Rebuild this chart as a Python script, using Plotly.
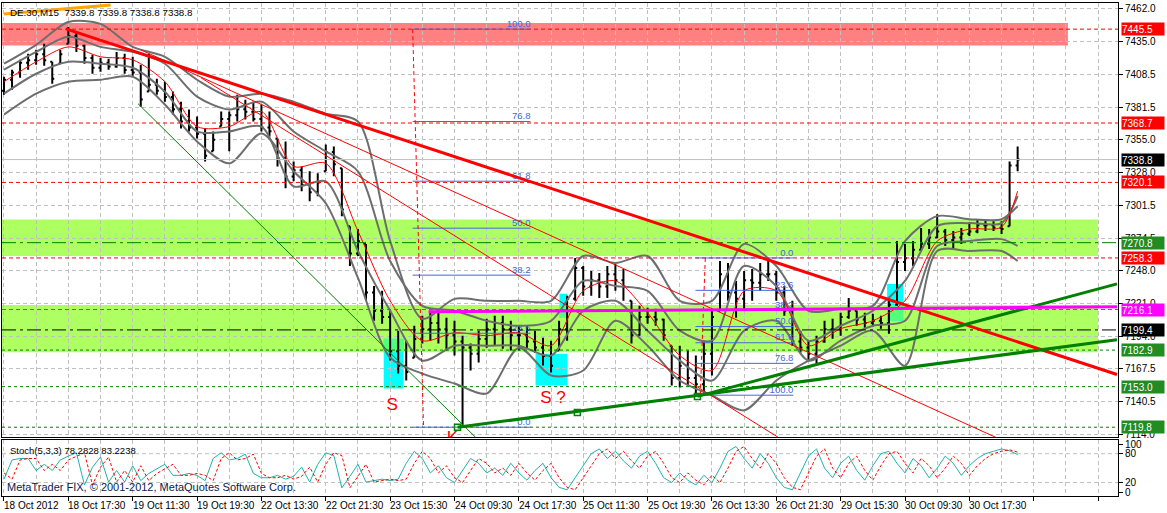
import plotly.graph_objects as go

FONT = "Liberation Sans"
FS = 9.5

# ---------------- price bars (every 4th M15 bar; x = bar number from 18 Oct 09:30)
bar_idx = list(range(0, 505, 4))
high = [7406.6, 7412.3, 7420.4, 7425.3, 7428.6, 7433.5, 7418.8, 7428.6, 7447.3, 7443.2,
        7432.7, 7424.5, 7422.1, 7421.2, 7426.9, 7425.3, 7422.9, 7416.4, 7425.3, 7405.0,
        7402.5, 7394.4, 7386.2, 7379.7, 7374.0, 7364.2, 7361.8, 7378.1, 7378.1, 7391.9,
        7387.8, 7386.2, 7383.8, 7378.1, 7356.0, 7353.6, 7337.3, 7333.2, 7329.2, 7327.5,
        7351.2, 7349.5, 7331.6, 7284.3, 7281.9, 7269.7, 7235.4, 7231.4, 7215.1, 7198.8,
        7190.6, 7202.8, 7211.0, 7215.1, 7213.4, 7209.3, 7206.9, 7194.7, 7188.2, 7198.8,
        7208.5, 7211.0, 7211.0, 7206.9, 7202.8, 7202.8, 7198.8, 7193.0, 7190.6, 7206.9,
        7227.3, 7258.2, 7251.7, 7247.7, 7246.0, 7251.7, 7253.4, 7249.3, 7223.2, 7219.1,
        7217.5, 7216.7, 7208.5, 7186.5, 7186.5, 7182.5, 7178.4, 7190.6, 7215.1, 7255.8,
        7254.2, 7239.5, 7247.7, 7249.3, 7254.2, 7258.2, 7247.7, 7235.4, 7223.2, 7198.8,
        7190.6, 7194.7, 7206.9, 7208.5, 7213.4, 7225.6, 7215.1, 7213.4, 7212.6, 7211.0,
        7223.2, 7272.1, 7269.7, 7272.1, 7282.7, 7281.9, 7294.1, 7281.9, 7280.3, 7282.7,
        7286.8, 7290.0, 7290.0, 7288.4, 7288.4, 7337.3, 7349.5]
low = [7391.9, 7396.0, 7405.8, 7412.3, 7416.4, 7415.5, 7400.9, 7417.2, 7433.5, 7426.9,
       7417.2, 7409.0, 7410.6, 7412.3, 7413.9, 7409.0, 7407.4, 7382.1, 7394.4, 7391.9,
       7386.2, 7375.6, 7364.2, 7361.8, 7356.0, 7337.3, 7345.5, 7365.8, 7345.5, 7369.9,
       7371.5, 7369.9, 7361.8, 7357.7, 7333.2, 7315.3, 7321.0, 7312.9, 7304.7, 7308.8,
       7329.2, 7325.1, 7292.5, 7251.7, 7259.9, 7223.2, 7206.9, 7204.5, 7174.3, 7163.7,
       7158.0, 7176.7, 7188.2, 7190.6, 7188.2, 7182.5, 7178.4, 7119.7, 7166.2, 7172.7,
       7184.9, 7186.5, 7184.1, 7182.5, 7182.5, 7184.1, 7180.8, 7170.2, 7164.5, 7182.5,
       7190.6, 7223.2, 7227.3, 7227.3, 7225.6, 7225.6, 7231.4, 7223.2, 7188.2, 7194.7,
       7204.5, 7202.8, 7190.6, 7153.9, 7152.3, 7153.9, 7147.4, 7145.8, 7162.1, 7215.1,
       7223.2, 7209.3, 7215.1, 7223.2, 7231.4, 7239.5, 7223.2, 7211.0, 7186.5, 7180.8,
       7174.3, 7171.9, 7189.0, 7192.2, 7194.7, 7208.5, 7202.8, 7201.2, 7202.0, 7200.4,
       7196.3, 7219.1, 7247.7, 7251.7, 7264.0, 7265.6, 7274.5, 7268.1, 7266.4, 7269.7,
       7276.2, 7278.6, 7280.3, 7280.3, 7277.8, 7284.3, 7329.2]
close = [7404, 7410, 7418, 7420, 7425, 7420, 7405, 7425, 7440, 7432,
         7422, 7414, 7418, 7415, 7422, 7412, 7410, 7388, 7400, 7395,
         7390, 7380, 7370, 7365, 7360, 7342, 7355, 7372, 7375, 7380,
         7378, 7372, 7365, 7362, 7340, 7325, 7330, 7318, 7312, 7320,
         7345, 7335, 7298, 7262, 7272, 7230, 7215, 7210, 7182, 7170,
         7165, 7192, 7200, 7205, 7200, 7195, 7190, 7185, 7180, 7192,
         7200, 7205, 7200, 7195, 7195, 7190, 7185, 7178, 7170, 7200,
         7225, 7250, 7235, 7240, 7235, 7245, 7240, 7235, 7195, 7210,
         7210, 7208, 7195, 7160, 7170, 7160, 7155, 7180, 7210, 7245,
         7230, 7225, 7240, 7238, 7245, 7245, 7230, 7215, 7190, 7185,
         7180, 7190, 7200, 7200, 7210, 7215, 7208, 7205, 7207, 7205,
         7220, 7255, 7258, 7265, 7270, 7275, 7280, 7273, 7275, 7278,
         7280, 7285, 7285, 7283, 7282, 7334, 7338.8]
open_ = [7395.0] + [min(max(close[k - 1], low[k]), high[k]) for k in range(1, len(close))]

# ---------------- indicator curves (every 16 bars)
band_idx = [0, 16, 32, 48, 64, 80, 96, 112, 128, 144, 160, 176, 192, 208, 224, 240,
            256, 272, 288, 304, 320, 336, 352, 368, 384, 400, 416, 432, 448, 464, 480, 496, 504]
bb_outer_up = [7417.2, 7432.7, 7451.4, 7449.8, 7431.0, 7422.9, 7404.1, 7390.3, 7392.7, 7386.2, 7376.4,
               7369.9, 7272.1, 7208.5, 7224.8, 7223.2, 7223.2, 7223.2, 7259.9, 7254.2, 7259.9, 7223.2,
               7223.2, 7269.7, 7251.7, 7215.1, 7216.7, 7219.1, 7272.1, 7292.5, 7290.0, 7290.0, 7300.6]
bb_outer_lo = [7375.6, 7392.7, 7402.5, 7404.1, 7406.6, 7383.8, 7353.6, 7335.7, 7360.1, 7329.2, 7303.1,
               7241.9, 7176.7, 7163.7, 7155.6, 7147.4, 7184.9, 7162.1, 7166.2, 7206.9, 7186.5, 7158.0,
               7145.8, 7133.6, 7158.0, 7174.3, 7186.5, 7198.8, 7170.2, 7264.0, 7264.0, 7264.0, 7255.8]
bb_inner_up = [7412.3, 7426.9, 7439.2, 7431.0, 7426.9, 7417.2, 7390.3, 7379.7, 7386.2, 7361.8, 7345.5,
               7329.2, 7255.8, 7219.1, 7215.1, 7206.9, 7202.8, 7206.9, 7239.5, 7235.4, 7231.4, 7198.8,
               7190.6, 7251.7, 7235.4, 7190.6, 7202.8, 7215.1, 7239.5, 7284.3, 7286.8, 7286.8, 7308.8]
bb_inner_lo = [7392.7, 7409.0, 7418.8, 7417.2, 7413.9, 7394.4, 7361.8, 7361.8, 7365.8, 7316.9, 7321.0,
               7264.0, 7215.1, 7174.3, 7186.5, 7186.5, 7186.5, 7178.4, 7215.1, 7223.2, 7198.8, 7174.3,
               7158.0, 7198.8, 7206.9, 7174.3, 7190.6, 7202.8, 7206.9, 7268.1, 7272.1, 7273.7, 7268.1]
ma_line = [7402.5, 7418.8, 7431.0, 7422.9, 7420.4, 7402.5, 7365.8, 7365.8, 7378.1, 7333.2, 7335.7,
           7280.3, 7223.2, 7190.6, 7197.1, 7194.7, 7197.1, 7186.5, 7231.4, 7239.5, 7213.4, 7178.4,
           7166.2, 7231.4, 7231.4, 7186.5, 7200.4, 7206.9, 7223.2, 7272.1, 7281.9, 7283.5, 7312.9]

# ---------------- stochastic (5,3,3)
stoch_k = [27, 67, 70, 70, 45, 58, 45, 67, 75, 82,
           15, 52, 73, 21, 45, 21, 55, 24, 39, 48,
           58, 35, 35, 39, 35, 24, 70, 82, 67, 70,
           79, 39, 30, 30, 35, 27, 33, 52, 21, 58,
           82, 76, 9, 33, 58, 21, 24, 27, 24, 27,
           60, 85, 70, 40, 55, 30, 20, 45, 70, 60,
           40, 50, 35, 60, 40, 25, 45, 60, 30, 10,
           5, 30, 55, 80, 90, 70, 85, 65, 50, 75,
           85, 60, 30, 20, 40, 25, 15, 35, 20, 50,
           85, 95, 70, 50, 80, 60, 30, 10, 5, 40,
           75, 90, 50, 30, 60, 75, 45, 25, 55, 80,
           85, 60, 40, 70, 55, 30, 50, 75, 60, 35,
           55, 70, 80, 85, 90, 86, 78.28]
stoch_d = [40, 27, 67, 70, 70, 45, 58, 45, 67, 75,
           82, 15, 52, 73, 21, 45, 21, 55, 24, 39,
           48, 58, 35, 35, 39, 35, 24, 70, 82, 67,
           70, 79, 39, 30, 30, 35, 27, 33, 52, 21,
           58, 82, 76, 9, 33, 58, 21, 24, 27, 24,
           27, 60, 85, 70, 40, 55, 30, 20, 45, 70,
           60, 40, 50, 35, 60, 40, 25, 45, 60, 30,
           10, 5, 30, 55, 80, 90, 70, 85, 65, 50,
           75, 85, 60, 30, 20, 40, 25, 15, 35, 20,
           50, 85, 95, 70, 50, 80, 60, 30, 10, 5,
           40, 75, 90, 50, 30, 60, 75, 45, 25, 55,
           80, 85, 60, 40, 70, 55, 30, 50, 75, 60,
           35, 55, 70, 80, 85, 88, 83.22]

# ---------------- axes labels
time_idx = [0, 32, 64, 96, 128, 160, 192, 224, 256, 288, 320, 352, 384, 416, 448, 480]
time_labels = ["18 Oct 2012", "18 Oct 17:30", "19 Oct 11:30", "19 Oct 19:30", "22 Oct 13:30",
               "22 Oct 21:30", "23 Oct 15:30", "24 Oct 09:30", "24 Oct 17:30", "25 Oct 11:30",
               "25 Oct 19:30", "26 Oct 13:30", "26 Oct 21:30", "29 Oct 15:30", "30 Oct 09:30",
               "30 Oct 17:30"]
grid_minor_idx = [16, 48, 80, 112, 144, 176, 208, 240, 272, 304, 336, 368, 400, 432, 464, 496, 528]
grid_major_idx = time_idx + [512, 544]
price_ticks = [7462.0, 7435.0, 7408.5, 7381.5, 7355.0, 7328.0, 7301.5, 7274.5, 7248.0,
               7221.0, 7194.0, 7167.5, 7140.5, 7114.0]

# ---------------- chart objects (horizontal levels)
level_prices = [7445.5, 7368.7, 7338.8, 7320.1, 7270.8, 7258.3, 7216.1, 7199.4, 7182.9, 7153.0, 7119.8]
level_colors = ["#FF0000", "#FF0000", "#C0C0C0", "#FF0000", "#008000", "#FF0000", "#FF00FF",
                "#000000", "#008000", "#008000", "#008000"]
level_dash = ["4px,3px", "4px,3px", "solid", "4px,3px", "14px,4px,3px,4px", "4px,3px", "4px,3px",
              "14px,4px,3px,4px", "3px,3px", "3px,3px", "3px,3px"]
label_bg = ["#FF0000", "#FF0000", "#000000", "#FF0000", "#228B22", "#FF0000", "#FF00FF",
            "#000000", "#228B22", "#228B22", "#228B22"]

# zones: (x0, x1, price_low, price_high, colour)
zones = [(-5, 529, 7432.1, 7450.6, "#FF8080"),
         (-5, 544, 7259.9, 7289.8, "#AEFF62"),
         (-5, 544, 7181.1, 7219.7, "#AEFF62")]
cyan_boxes = [(188.8, 198.7, 7151.5, 7192.2),
              (264.3, 280.2, 7154.0, 7180.0),
              (276.2, 280.2, 7209.3, 7228.9),
              (439.1, 447.1, 7206.9, 7237.0)]

# trend lines: (x0, p0, x1, p1, colour, width)
trend_lines = [(30.8, 7445.7, 553.4, 7162.9, "#FF0000", 3),
               (68.0, 7428.6, 495.3, 7109.9, "#FF0000", 1),
               (97.9, 7405.8, 385.0, 7111.5, "#FF0000", 1),
               (66.6, 7384.6, 234.5, 7111.5, "#008000", 1),
               (225.5, 7119.7, 553.4, 7191.4, "#008000", 3),
               (344.8, 7145.0, 553.4, 7237.1, "#008000", 3),
               (211.1, 7214.2, 553.4, 7218.3, "#FF00FF", 3),
               (0.0, 7457.9, 53.0, 7465.3, "#FFA500", 3)]
anchor_x = [225.5, 285.1, 344.8]
anchor_p = [7119.7, 7131.9, 7145.0]

# fibonacci retracements
fib_levels = [0.0, 23.6, 38.2, 50.0, 61.8, 76.8, 100.0]
fib1 = dict(x0=203.2, x1=261.8, p0=7119.8, p100=7445.5, base=(203.2, 7445.5, 208.6, 7119.8))
fib2 = dict(x0=343.8, x1=392.5, p0=7258.3, p100=7146.0, base=(348.7, 7258.3, 346.2, 7146.0))

marks_text = ["S", "S ?", "K"]
marks_x = [193.0, 273.0, 223.0]
marks_p = [7137.6, 7143.3, 7110.0]

# ---------------- figure
fig = go.Figure()

fig.add_trace(go.Ohlc(x=bar_idx, open=open_, high=high, low=low, close=close,
                      increasing=dict(line=dict(color="black", width=2)),
                      decreasing=dict(line=dict(color="black", width=2)),
                      tickwidth=0.25, xaxis="x", yaxis="y", hoverinfo="skip", showlegend=False))
for curve in (bb_outer_up, bb_outer_lo, bb_inner_up, bb_inner_lo):
    fig.add_trace(go.Scatter(x=band_idx, y=curve, mode="lines",
                             line=dict(color="#6E6E6E", width=2, shape="spline", smoothing=0.8),
                             xaxis="x", yaxis="y", hoverinfo="skip", showlegend=False))
fig.add_trace(go.Scatter(x=band_idx, y=ma_line, mode="lines",
                         line=dict(color="#FF0000", width=1, shape="spline", smoothing=0.8),
                         xaxis="x", yaxis="y", hoverinfo="skip", showlegend=False))

fig.add_trace(go.Scatter(x=anchor_x, y=anchor_p, mode="markers",
                         marker=dict(symbol="square-open", size=6, color="#008000", line=dict(width=1.5)),
                         xaxis="x", yaxis="y", hoverinfo="skip", showlegend=False))

fig.add_trace(go.Scatter(x=marks_x, y=marks_p, mode="text", text=marks_text,
                         textfont=dict(family=FONT, size=17, color="#FF0000"),
                         xaxis="x", yaxis="y", cliponaxis=True, hoverinfo="skip", showlegend=False))

# fib labels
for fib in (fib1, fib2):
    xs, ys, ts = [], [], []
    for lv in fib_levels:
        xs.append(fib["x1"])
        ys.append(fib["p0"] + (fib["p100"] - fib["p0"]) * lv / 100.0)
        ts.append(f"{lv:.1f}")
    fig.add_trace(go.Scatter(x=xs, y=ys, mode="text", text=ts, textposition="top left",
                             textfont=dict(family=FONT, size=FS, color="#4169E1"),
                             xaxis="x", yaxis="y", hoverinfo="skip", showlegend=False))

fig.add_trace(go.Scatter(x=bar_idx, y=stoch_k, mode="lines", line=dict(color="#20B2AA", width=1),
                         xaxis="x2", yaxis="y2", hoverinfo="skip", showlegend=False))
fig.add_trace(go.Scatter(x=bar_idx, y=stoch_d, mode="lines", line=dict(color="#FF0000", width=1, dash="3px,2px"),
                         xaxis="x2", yaxis="y2", hoverinfo="skip", showlegend=False))

shapes = []
for x0, x1, pl, ph, col in zones:
    shapes.append(dict(type="rect", xref="x", yref="y", x0=x0, x1=x1, y0=pl, y1=ph,
                       fillcolor=col, line=dict(width=0), layer="below"))
green_zones = zones[1:]
for x0, x1, pl, ph in cyan_boxes:
    shapes.append(dict(type="rect", xref="x", yref="y", x0=x0, x1=x1, y0=pl, y1=ph,
                       fillcolor="#00FFFF", line=dict(width=0), layer="below"))
    for zx0, zx1, zl, zh, _ in green_zones:
        lo, hi = max(pl, zl), min(ph, zh)
        if hi > lo:
            shapes.append(dict(type="rect", xref="x", yref="y", x0=x0, x1=x1, y0=lo, y1=hi,
                               fillcolor="#52FF7A", line=dict(width=0), layer="below"))

for p, col, d in zip(level_prices, level_colors, level_dash):
    shapes.append(dict(type="line", xref="x domain", yref="y", x0=0, x1=1, y0=p, y1=p,
                       line=dict(color=col, width=1, dash=d), layer="above"))

for fib in (fib1, fib2):
    for lv in fib_levels:
        p = fib["p0"] + (fib["p100"] - fib["p0"]) * lv / 100.0
        shapes.append(dict(type="line", xref="x", yref="y", x0=fib["x0"], x1=fib["x1"], y0=p, y1=p,
                           line=dict(color="#4169E1", width=1), layer="above"))
    bx0, bp0, bx1, bp1 = fib["base"]
    shapes.append(dict(type="line", xref="x", yref="y", x0=bx0, x1=bx1, y0=bp0, y1=bp1,
                       line=dict(color="#FF0000", width=1, dash="4px,3px"), layer="above"))

for x0, p0, x1, p1, col, w in trend_lines:
    shapes.append(dict(type="line", xref="x", yref="y", x0=x0, x1=x1, y0=p0, y1=p1,
                       line=dict(color=col, width=w), layer="above"))

# stochastic 20/80 levels
for lv in (20, 80):
    shapes.append(dict(type="line", xref="x2 domain", yref="y2", x0=0, x1=1, y0=lv, y1=lv,
                       line=dict(color="#C0C0C0", width=1, dash="4px,3px"), layer="below"))

annotations = []
for p, bg in zip(level_prices, label_bg):
    annotations.append(dict(xref="paper", yref="y", x=1, y=p, xanchor="left", yanchor="middle",
                            xshift=3, text=f"{p:.1f}", showarrow=False, bgcolor=bg,
                            font=dict(family=FONT, size=10, color="white"),
                            width=42, height=12, align="left", borderpad=0))
for i, t in zip(time_idx, time_labels):
    annotations.append(dict(xref="x2", yref="paper", x=i, y=0, xanchor="left", yanchor="top",
                            xshift=-2, yshift=-2, text=t, showarrow=False,
                            font=dict(family=FONT, size=FS + 0.5, color="black")))
annotations.append(dict(xref="paper", yref="paper", x=0, y=1, xanchor="left", yanchor="top",
                        xshift=6, yshift=-2, text="DE.30,M15  7339.8 7339.8 7338.8 7338.8",
                        showarrow=False, font=dict(family=FONT, size=FS + 0.3, color="black")))
annotations.append(dict(xref="paper", yref="y2 domain", x=0, y=1, xanchor="left", yanchor="top",
                        xshift=6, yshift=-3, text="Stoch(5,3,3) 78.2828 83.2238",
                        showarrow=False, font=dict(family=FONT, size=FS, color="black")))
annotations.append(dict(xref="paper", yref="y2 domain", x=0, y=0, xanchor="left", yanchor="bottom",
                        xshift=3, yshift=1, text="MetaTrader FIX, © 2001-2012, MetaQuotes Software Corp.",
                        showarrow=False, font=dict(family=FONT, size=11, color="#0A1A50")))

grid = dict(showgrid=True, gridcolor="#C0C0C0", griddash="4px,3px", gridwidth=1)
xr = [-0.99, 553.9]
fig.update_layout(
    width=1167, height=513, margin=dict(l=1, r=49, t=1, b=17),
    paper_bgcolor="white", plot_bgcolor="white",
    font=dict(family=FONT, size=FS + 0.5, color="black"),
    xaxis=dict(domain=[0, 1], range=xr, anchor="y", tickvals=grid_major_idx, showticklabels=False,
               ticks="", zeroline=False, showline=True, mirror=True, linecolor="black", linewidth=1,
               minor=dict(tickvals=grid_minor_idx, showgrid=True, gridcolor="#C0C0C0", griddash="4px,3px"),
               **grid),
    yaxis=dict(domain=[0.1192, 1], range=[7111.6, 7466.9], anchor="x", side="right",
               tickvals=price_ticks, ticktext=[f"{v:.1f}" for v in price_ticks],
               ticks="outside", ticklen=4, tickcolor="black", zeroline=False,
               showline=True, mirror=True, linecolor="black", linewidth=1, **grid),
    xaxis2=dict(domain=[0, 1], range=xr, anchor="y2", tickvals=grid_major_idx, showticklabels=False,
                ticks="outside", ticklen=4, tickcolor="black", zeroline=False,
                showline=True, mirror=True, linecolor="black", linewidth=1,
                minor=dict(tickvals=grid_minor_idx, showgrid=True, gridcolor="#C0C0C0", griddash="4px,3px"),
                **grid),
    yaxis2=dict(domain=[0, 0.1131], range=[-8, 108], anchor="x2", side="right",
                tickvals=[100, 80, 20, 0], ticktext=["100", "80", "20", "0"],
                ticks="outside", ticklen=4, tickcolor="black", zeroline=False, showgrid=False,
                showline=True, mirror=True, linecolor="black", linewidth=1),
    shapes=shapes, annotations=annotations, showlegend=False,
)
fig.update_xaxes(rangeslider_visible=False)

fig.write_html("out.html", config={"displayModeBar": False},
               post_script="document.body.style.margin='0';document.body.style.overflow='hidden';")
